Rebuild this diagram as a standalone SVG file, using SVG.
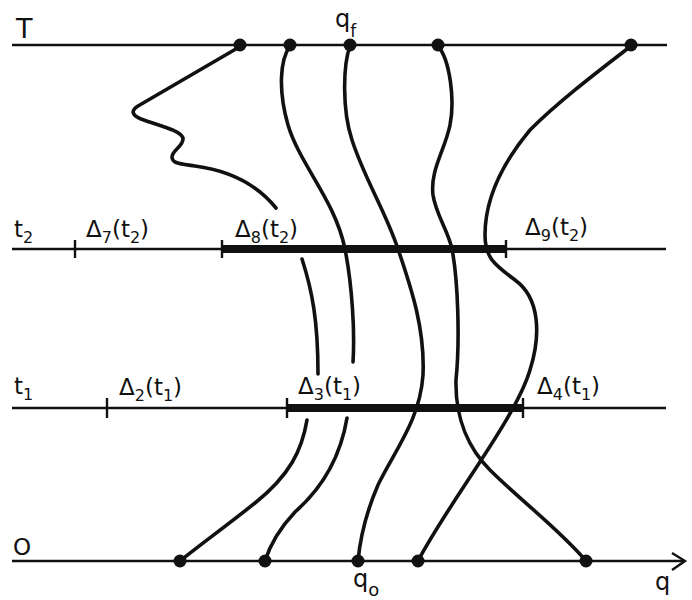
<svg xmlns="http://www.w3.org/2000/svg" width="692" height="600" viewBox="0 0 692 600">
<style>
.ax{stroke:#111;stroke-width:2.4;fill:none}
.bar{stroke:#111;stroke-width:8;fill:none}
.tick{stroke:#111;stroke-width:2.4;fill:none}
.wl{stroke:#111;stroke-width:3.6;fill:none;stroke-linecap:round;stroke-linejoin:round}
.dot{fill:#111}
text{font-family:"DejaVu Sans","Liberation Sans",sans-serif;font-size:23px;fill:#111}
.sub{font-size:16px}
</style>
<rect width="692" height="600" fill="#fff"/>
<g id="levels">
  <line class="ax" x1="12" y1="45" x2="667" y2="45"/>
  <line class="ax" x1="12" y1="249" x2="666" y2="249"/>
  <line class="ax" x1="12" y1="408" x2="666" y2="408"/>
  <line class="ax" x1="12" y1="561" x2="684" y2="561"/>
  <polyline class="ax" points="672,553 685,561 672,570"/>
  <line class="bar" x1="222" y1="249" x2="506" y2="249"/>
  <line class="bar" x1="287" y1="408" x2="523" y2="408"/>
  <line class="tick" x1="75" y1="240" x2="75" y2="258"/>
  <line class="tick" x1="222" y1="240" x2="222" y2="258"/>
  <line class="tick" x1="506" y1="240" x2="506" y2="258"/>
  <line class="tick" x1="107" y1="398" x2="107" y2="418"/>
  <line class="tick" x1="287" y1="398" x2="287" y2="418"/>
  <line class="tick" x1="523" y1="398" x2="523" y2="418"/>
</g>
<g id="connectors">
  <path class="wl" d="M241,46 L138,106 Q127,113 141,119 C160,126 180,130 183,138 C184,146 172,150 172,157 C172,164 182,164 195,166 C225,170 255,182 276,208"/>
  <path class="wl" d="M302,259 C312,290 318,320 318,374"/>
  <path class="wl" d="M307,420 C302,450 290,475 255,503 C230,523 200,545 180,561"/>
  <path class="wl" d="M290,46 C280,60 278,90 288,125 C300,165 335,200 345,249 C352,285 355,330 353,362"/>
  <path class="wl" d="M347,418 C340,460 320,490 295,512 C280,528 270,545 265,561"/>
  <path class="wl" d="M350,46 C343,65 342,110 352,140 C365,180 385,210 398,249 C412,290 425,330 423,375 C420,420 395,450 378,485 C365,515 360,540 358,561"/>
  <path class="wl" d="M438,46 C450,60 455,100 450,125 C445,150 430,170 433,195 C436,215 448,230 452,249 C458,280 460,340 456,380 C455,420 470,450 490,470 C520,500 560,530 586,561"/>
  <path class="wl" d="M631,46 C600,70 560,100 530,130 C505,160 485,195 485,235 C485,258 495,265 515,280 C540,298 541,335 530,370 C515,420 450,500 418,561"/>
</g>
<g id="endpoints">
  <circle class="dot" cx="240" cy="45" r="6.5"/>
  <circle class="dot" cx="290" cy="45" r="6.5"/>
  <circle class="dot" cx="350" cy="45" r="6.5"/>
  <circle class="dot" cx="438" cy="45" r="6.5"/>
  <circle class="dot" cx="631" cy="45" r="6.5"/>
  <circle class="dot" cx="180" cy="561" r="6.5"/>
  <circle class="dot" cx="265" cy="561" r="6.5"/>
  <circle class="dot" cx="358" cy="561" r="6.5"/>
  <circle class="dot" cx="418" cy="561" r="6.5"/>
  <circle class="dot" cx="586" cy="561" r="6.5"/>
</g>
<g id="labels">
  <text x="16" y="38" style="font-size:27px">T</text>
  <text x="13" y="555" style="font-size:23px">O</text>
  <text x="335" y="27" style="font-size:24px">q<tspan class="sub" dy="10" style="font-size:17px">f</tspan></text>
  <text x="353" y="587" style="font-size:24px">q<tspan class="sub" dy="9" style="font-size:18px">o</tspan></text>
  <text x="655" y="590" style="font-size:24px">q</text>
  <text x="14" y="237">t<tspan class="sub" dy="6">2</tspan></text>
  <text x="14" y="394">t<tspan class="sub" dy="6">1</tspan></text>
  <text x="86" y="237">Δ<tspan class="sub" dy="6">7</tspan><tspan dy="-6">(t</tspan><tspan class="sub" dy="6">2</tspan><tspan dy="-6">)</tspan></text>
  <text x="235" y="237">Δ<tspan class="sub" dy="6">8</tspan><tspan dy="-6">(t</tspan><tspan class="sub" dy="6">2</tspan><tspan dy="-6">)</tspan></text>
  <text x="525" y="235">Δ<tspan class="sub" dy="6">9</tspan><tspan dy="-6">(t</tspan><tspan class="sub" dy="6">2</tspan><tspan dy="-6">)</tspan></text>
  <text x="119" y="395">Δ<tspan class="sub" dy="6">2</tspan><tspan dy="-6">(t</tspan><tspan class="sub" dy="6">1</tspan><tspan dy="-6">)</tspan></text>
  <text x="298" y="394">Δ<tspan class="sub" dy="6">3</tspan><tspan dy="-6">(t</tspan><tspan class="sub" dy="6">1</tspan><tspan dy="-6">)</tspan></text>
  <text x="537" y="394">Δ<tspan class="sub" dy="6">4</tspan><tspan dy="-6">(t</tspan><tspan class="sub" dy="6">1</tspan><tspan dy="-6">)</tspan></text>
</g>
</svg>
